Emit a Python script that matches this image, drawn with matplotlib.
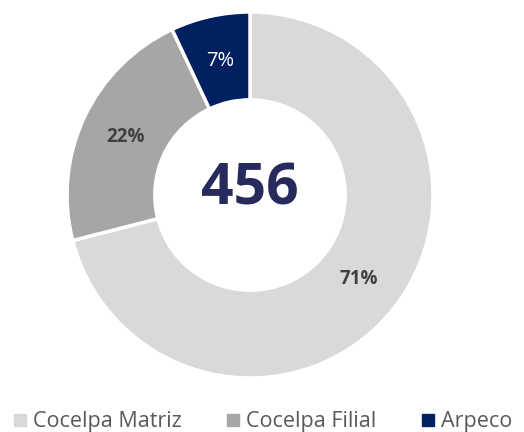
import matplotlib
matplotlib.use('Agg')
import matplotlib.pyplot as plt
from matplotlib.lines import Line2D

labels = ['Cocelpa Matriz', 'Cocelpa Filial', 'Arpeco']
values = [71, 22, 7]
colors = ['#D9D9D9', '#A6A6A6', '#002060']
total = '456'

plt.rcParams['font.family'] = ['Open Sans', 'DejaVu Sans']

fig = plt.figure(figsize=(5.24, 4.32), dpi=100)
ax = fig.add_axes([67/524, 54/432, 366/524, 366/432])

wedges, texts, autotexts = ax.pie(values, colors=colors, startangle=90, counterclock=False,
                                  autopct='%d%%', pctdistance=0.75,
                                  wedgeprops=dict(width=0.48, edgecolor='white', linewidth=2.5))
for i, t in enumerate(autotexts):
    if i == 2:
        t.set_color('white')
        t.set_fontsize(14.5)
    else:
        t.set_color('#404040')
        t.set_fontweight('bold')
        t.set_fontsize(13.5)

ax.text(0, 0.03, total, ha='center', va='center', fontsize=41, fontweight='bold', color='#262A5C')
ax.set_xlim(-1, 1)
ax.set_ylim(-1, 1)
ax.set_aspect('equal')
ax.axis('off')

handles = [Line2D([], [], marker='s', linestyle='', markersize=8, color=c) for c in colors]
fig.legend(handles, labels, loc='lower center', bbox_to_anchor=(0.5, -0.045), ncol=3, frameon=False,
           fontsize=15.5, labelcolor='#595959', handletextpad=0.2, columnspacing=2.0, handlelength=0.8)

fig.savefig('out.png', dpi=100)
